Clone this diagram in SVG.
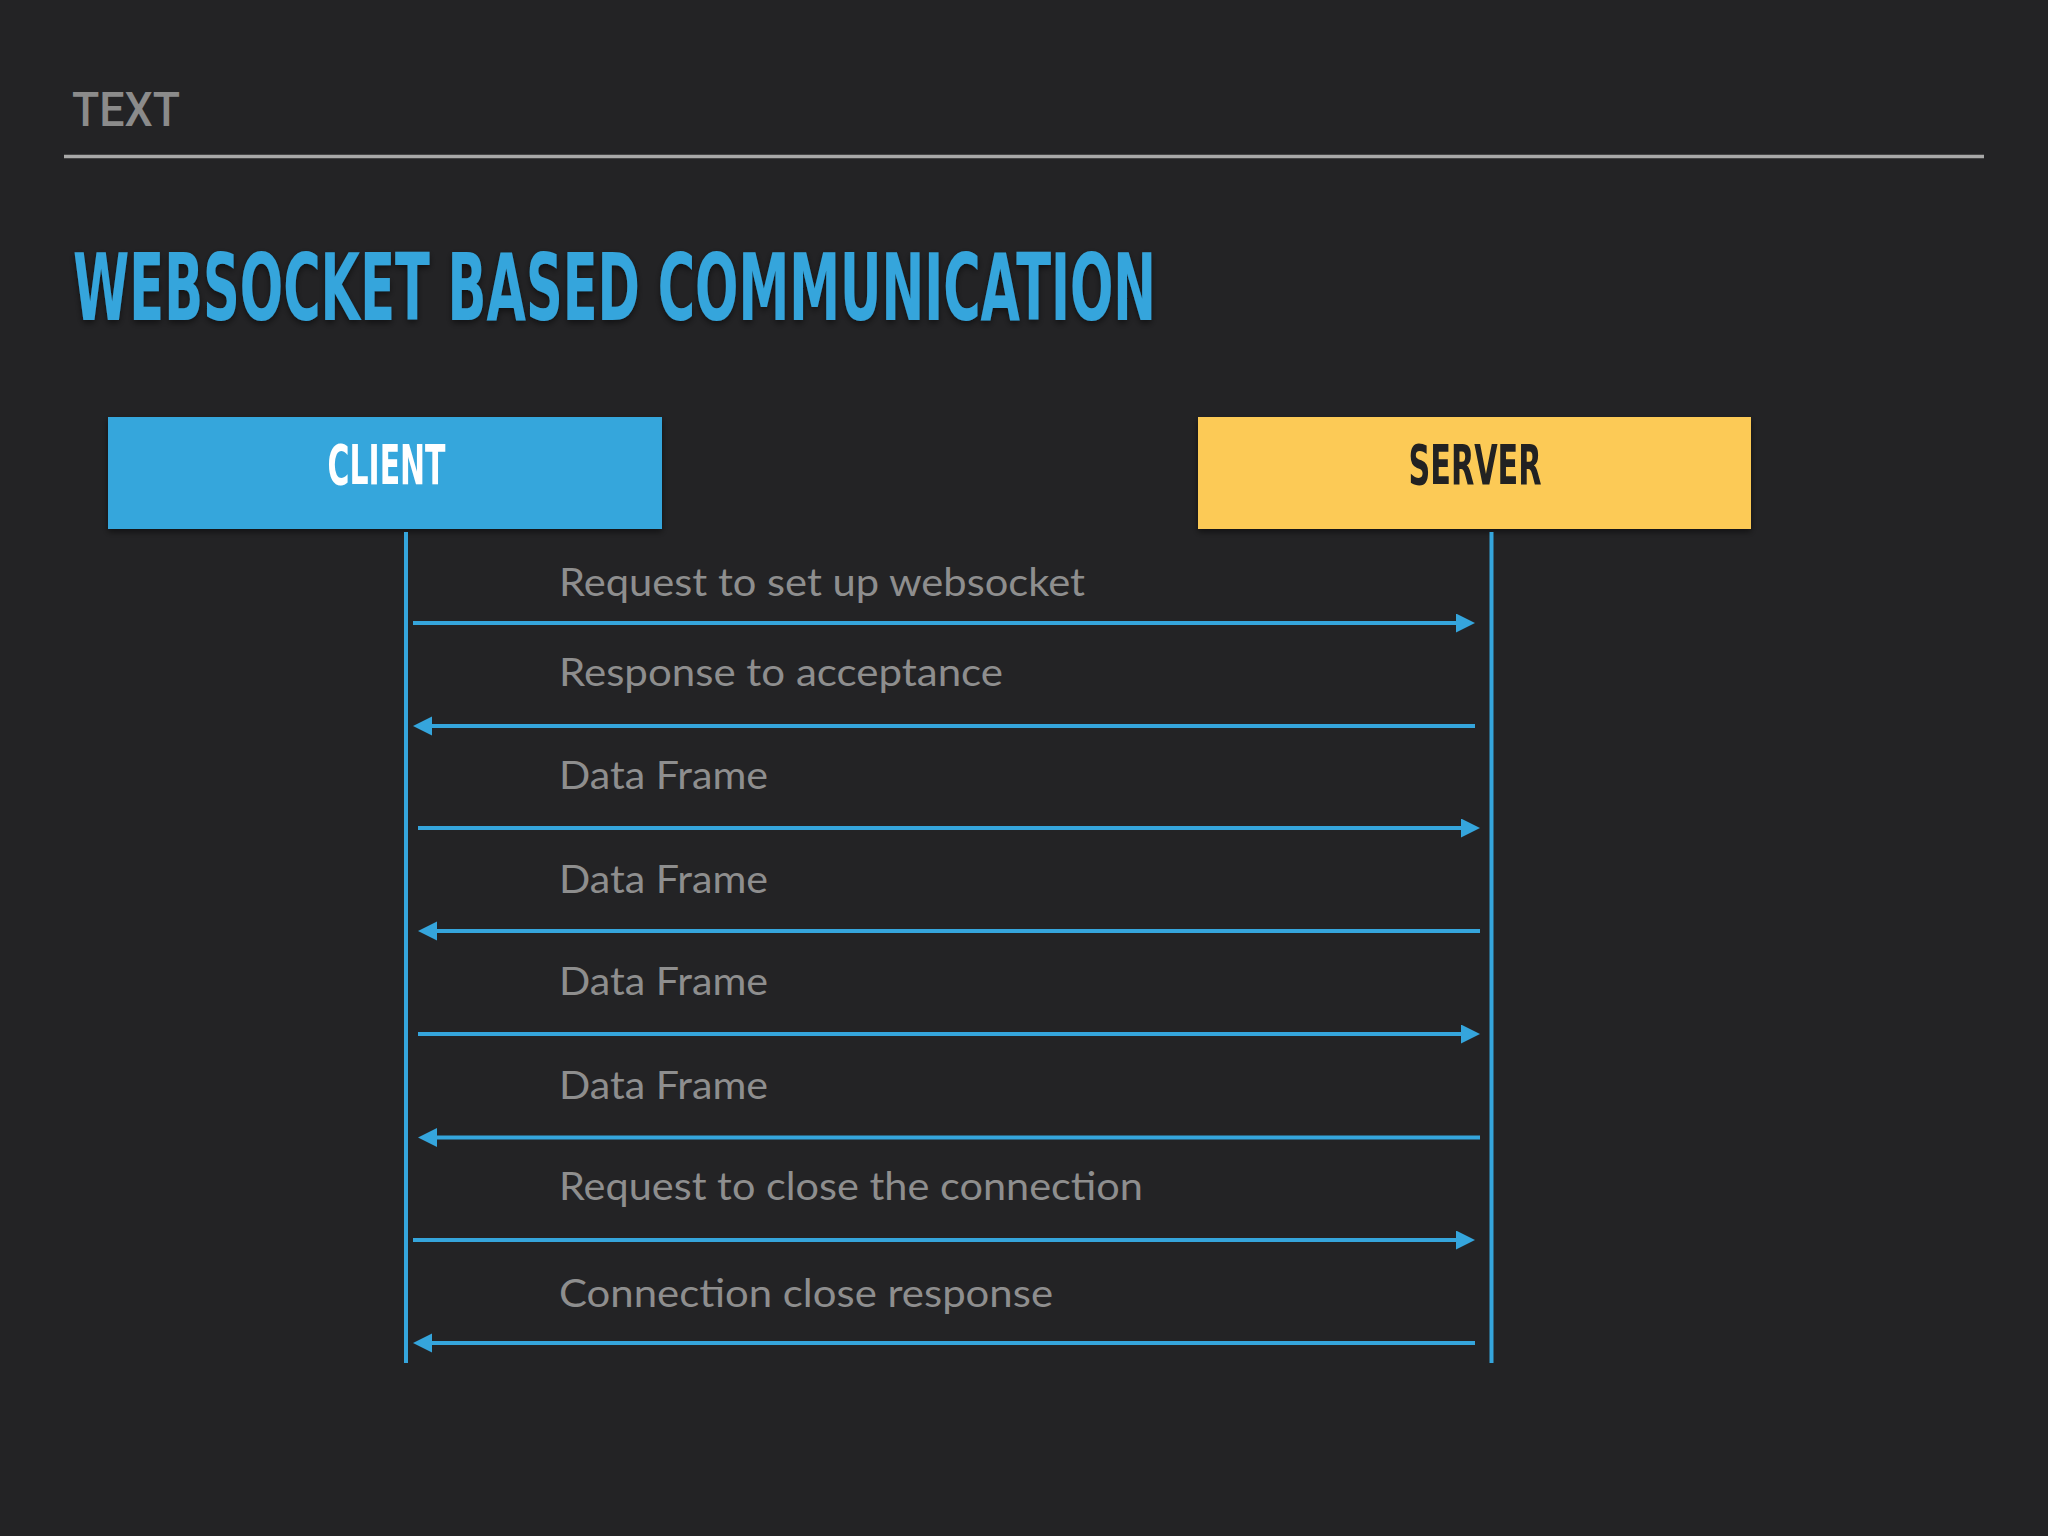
<svg xmlns="http://www.w3.org/2000/svg" width="2048" height="1536" viewBox="0 0 2048 1536">
  <defs>
    <style>
      .label { font-family: Lato, "Open Sans", "Liberation Sans", sans-serif; font-size: 39px; fill: #8e8e8e; }
      .msg { stroke: #35a5dc; stroke-width: 4; fill: none; marker-end: url(#arrow); }
      .life { stroke: #35a5dc; stroke-width: 4; }
      .boxtext { font-family: "DejaVu Sans", "Liberation Sans", sans-serif; font-weight: bold; font-size: 55px; text-anchor: middle; }
    </style>
    <marker id="arrow" markerUnits="userSpaceOnUse" markerWidth="20" markerHeight="20" viewBox="0 0 20 20" refX="11" refY="9.5" orient="auto">
      <path d="M0,0 L19,9.5 L0,19 z" fill="#35a5dc"/>
    </marker>
    <filter id="shadow" x="-5%" y="-20%" width="110%" height="140%">
      <feDropShadow dx="0" dy="3" stdDeviation="3" flood-color="#000" flood-opacity="0.5"/>
    </filter>
  </defs>
  <rect x="0" y="0" width="2048" height="1536" fill="#232325"/>

  <g id="header">
    <text x="72" y="126" font-family="Roboto, 'Liberation Sans', sans-serif" font-weight="500" font-size="48" fill="#8b8b8b" textLength="108" lengthAdjust="spacingAndGlyphs">TEXT</text>
    <line x1="64" y1="156.5" x2="1984" y2="156.5" stroke="#a8a8a8" stroke-width="3.5"/>
  </g>

  <g id="title" filter="url(#shadow)">
    <text x="73" y="320" font-family="'DejaVu Sans', 'Liberation Sans', sans-serif" font-weight="bold" font-size="93" fill="#35a5dc" textLength="1083" lengthAdjust="spacingAndGlyphs">WEBSOCKET BASED COMMUNICATION</text>
  </g>

  <g id="client" filter="url(#shadow)">
    <rect x="108" y="417" width="554" height="112" fill="#36a6dc"/>
    <text class="boxtext" x="386.5" y="484" fill="#ffffff" textLength="118" lengthAdjust="spacingAndGlyphs">CLIENT</text>
  </g>

  <g id="server" filter="url(#shadow)">
    <rect x="1198" y="417" width="553" height="112" fill="#fcca56"/>
    <text class="boxtext" x="1475" y="484" fill="#222222" textLength="133" lengthAdjust="spacingAndGlyphs">SERVER</text>
  </g>

  <g id="connectors">
    <line class="life" x1="406" y1="532" x2="406" y2="1363"/>
    <line class="life" x1="1491.5" y1="532" x2="1491.5" y2="1363"/>

    <g id="msg1">
      <line class="msg" x1="413" y1="623" x2="1467" y2="623"/>
      <text class="label" x="559" y="596" textLength="526" lengthAdjust="spacingAndGlyphs">Request to set up websocket</text>
    </g>
    <g id="msg2">
      <line class="msg" x1="1475" y1="726" x2="421" y2="726"/>
      <text class="label" x="559" y="686" textLength="444" lengthAdjust="spacingAndGlyphs">Response to acceptance</text>
    </g>
    <g id="msg3">
      <line class="msg" x1="418" y1="828" x2="1472" y2="828"/>
      <text class="label" x="559" y="789" textLength="209" lengthAdjust="spacingAndGlyphs">Data Frame</text>
    </g>
    <g id="msg4">
      <line class="msg" x1="1480" y1="931" x2="426" y2="931"/>
      <text class="label" x="559" y="893" textLength="209" lengthAdjust="spacingAndGlyphs">Data Frame</text>
    </g>
    <g id="msg5">
      <line class="msg" x1="418" y1="1034" x2="1472" y2="1034"/>
      <text class="label" x="559" y="995" textLength="209" lengthAdjust="spacingAndGlyphs">Data Frame</text>
    </g>
    <g id="msg6">
      <line class="msg" x1="1480" y1="1137.5" x2="426" y2="1137.5"/>
      <text class="label" x="559" y="1099" textLength="209" lengthAdjust="spacingAndGlyphs">Data Frame</text>
    </g>
    <g id="msg7">
      <line class="msg" x1="413" y1="1240" x2="1467" y2="1240"/>
      <text class="label" x="559" y="1200" textLength="584" lengthAdjust="spacingAndGlyphs">Request to close the connection</text>
    </g>
    <g id="msg8">
      <line class="msg" x1="1475" y1="1343" x2="421" y2="1343"/>
      <text class="label" x="559" y="1307" textLength="494" lengthAdjust="spacingAndGlyphs">Connection close response</text>
    </g>
  </g>
</svg>
